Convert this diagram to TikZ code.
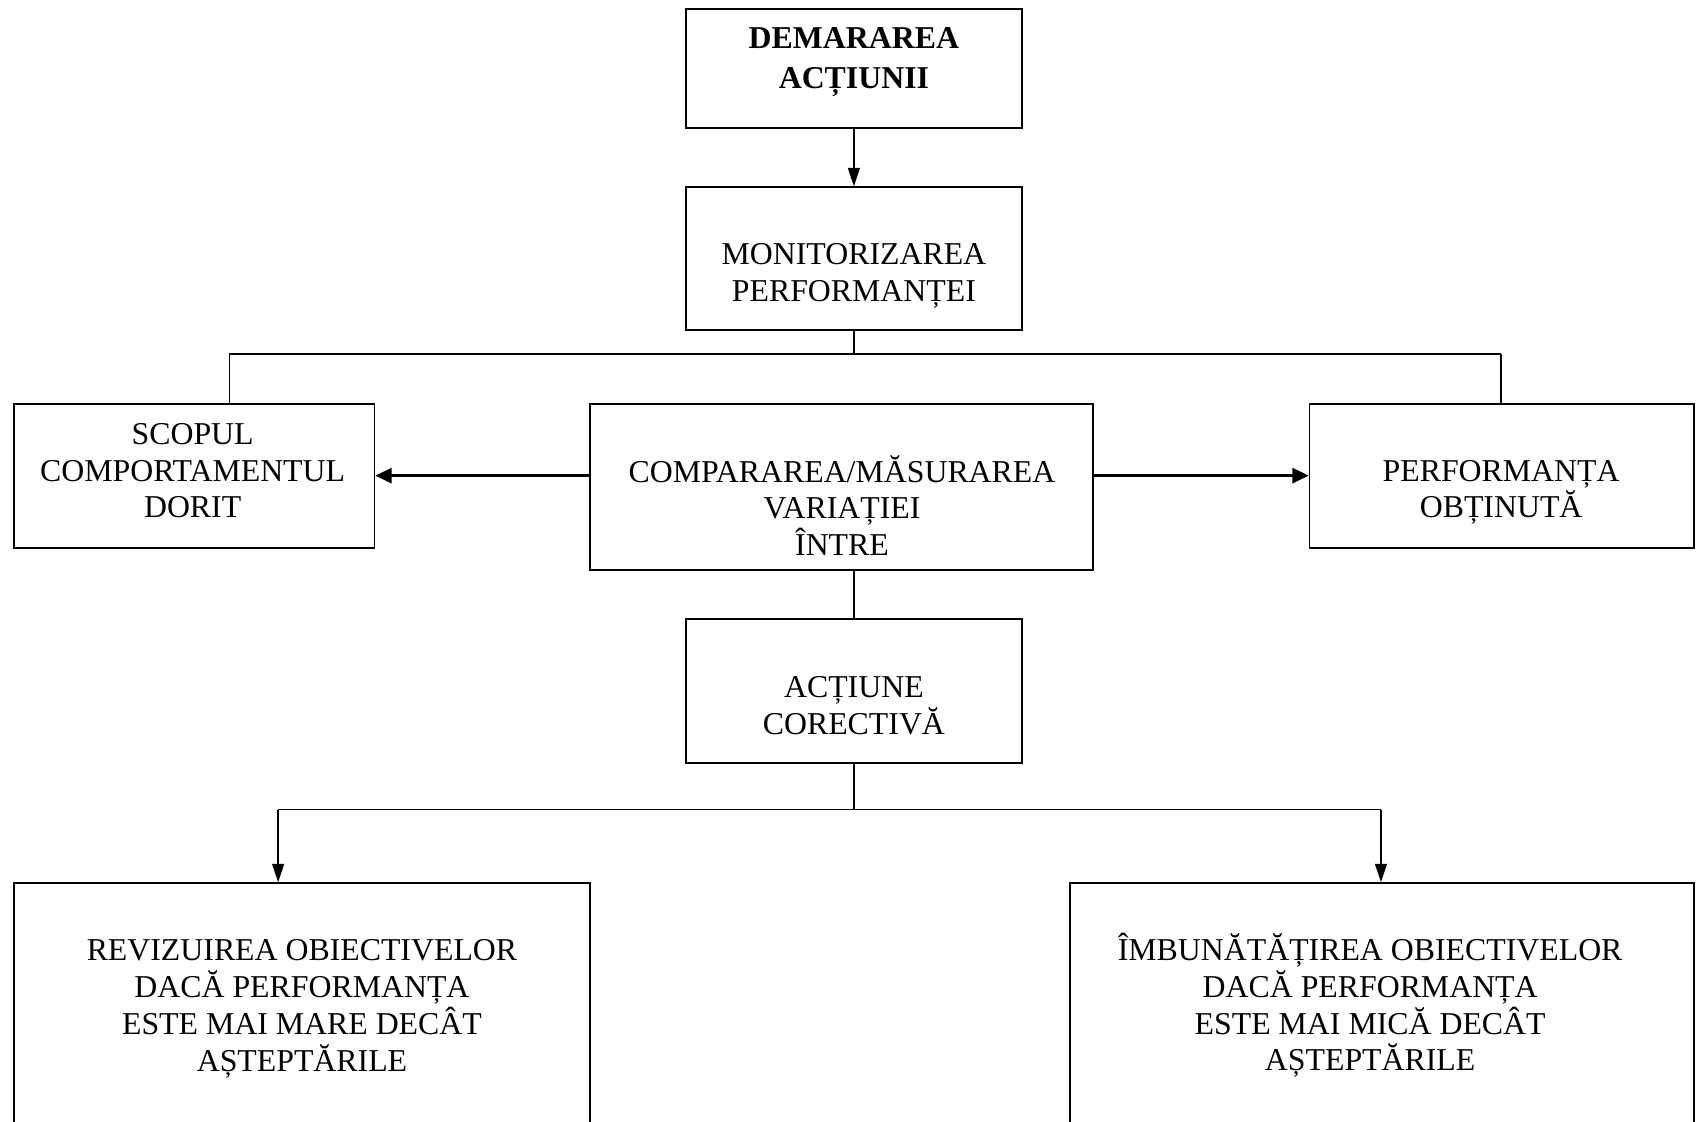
\documentclass[tikz,border=0pt]{standalone}
\usepackage{fontspec}
\setmainfont{Liberation Serif}
\usetikzlibrary{arrows.meta}
\begin{document}
\begin{tikzpicture}[x=1pt,y=-1pt,
  box/.style={draw, line width=1.7pt, inner sep=0pt},
  txt/.style={align=center, inner sep=0pt, font=\fontsize{29.4}{34}\selectfont},
  conn/.style={line width=1.3pt},
  arr/.style={line width=1.3pt, -{Triangle[length=17pt,width=11pt]}},
  harr/.style={line width=2.2pt, -{Triangle[length=15pt,width=14pt]}}]
\useasboundingbox (0,0) rectangle (1568,1036);
\clip (0,0) rectangle (1568,1036);
% boxes
\node[box, minimum width=310pt, minimum height=110pt] (dem) at (789,63) {};
\node[box, minimum width=310pt, minimum height=132pt] (mon) at (789,239) {};
\node[box, minimum width=333pt, minimum height=133pt] (scop) at (179.5,439.5) {};
\node[box, minimum width=465pt, minimum height=154pt] (comp) at (777.5,450) {};
\node[box, minimum width=355pt, minimum height=133pt] (perf) at (1387.5,439.5) {};
\node[box, minimum width=310pt, minimum height=133pt] (act) at (789,638.5) {};
\node[box, minimum width=532pt, minimum height=260pt] (rev) at (279,946) {};
\node[box, minimum width=576pt, minimum height=260pt] (imb) at (1277,946) {};
% texts
\node[txt, font=\fontsize{29.4}{37}\selectfont\bfseries] (tdem) at (789,57) {DEMARAREA\\ACȚIUNII};
\node[txt] (tmon) at (789,255) {MONITORIZAREA\\PERFORMANȚEI};
\node[txt] (tscop) at (178,435) {SCOPUL\\COMPORTAMENTUL\\DORIT};
\node[txt] (tcomp) at (778,467) {COMPARAREA/MĂSURAREA\\VARIAȚIEI\\ÎNTRE};
\node[txt] (tperf) at (1387,455) {PERFORMANȚA\\OBȚINUTĂ};
\node[txt] (tact) at (789,652) {ACȚIUNE\\CORECTIVĂ};
\node[txt] (trev) at (279,932) {REVIZUIREA OBIECTIVELOR\\DACĂ PERFORMANȚA\\ESTE MAI MARE DECÂT\\AȘTEPTĂRILE};
\node[txt] (timb) at (1266,929) {ÎMBUNĂTĂȚIREA OBIECTIVELOR\\DACĂ PERFORMANȚA\\ESTE MAI MICĂ DECÂT\\AȘTEPTĂRILE};
% junctions
\coordinate (jl) at (212,327);
\coordinate (jr) at (1387,327);
\coordinate (jb) at (789,748);
\coordinate (jbl) at (257,748);
\coordinate (jbr) at (1276,748);
% connectors
\draw[arr] (dem.south) -- (mon.north);
\draw[conn] (mon.south) -- (mon.south |- jl);
\draw[conn] (jl) -- (jr);
\draw[conn] (jl) -- (jl |- scop.north);
\draw[conn] (jr) -- (jr |- perf.north);
\draw[harr] (comp.west |- scop.east) -- (scop.east);
\draw[harr] (comp.east |- perf.west) -- (perf.west);
\draw[conn] (comp.south -| act.north) -- (act.north);
\draw[conn] (act.south) -- (jb);
\draw[conn] (jbl) -- (jbr);
\draw[arr] (jbl) -- (jbl |- rev.north);
\draw[arr] (jbr) -- (jbr |- imb.north);
\end{tikzpicture}
\end{document}
